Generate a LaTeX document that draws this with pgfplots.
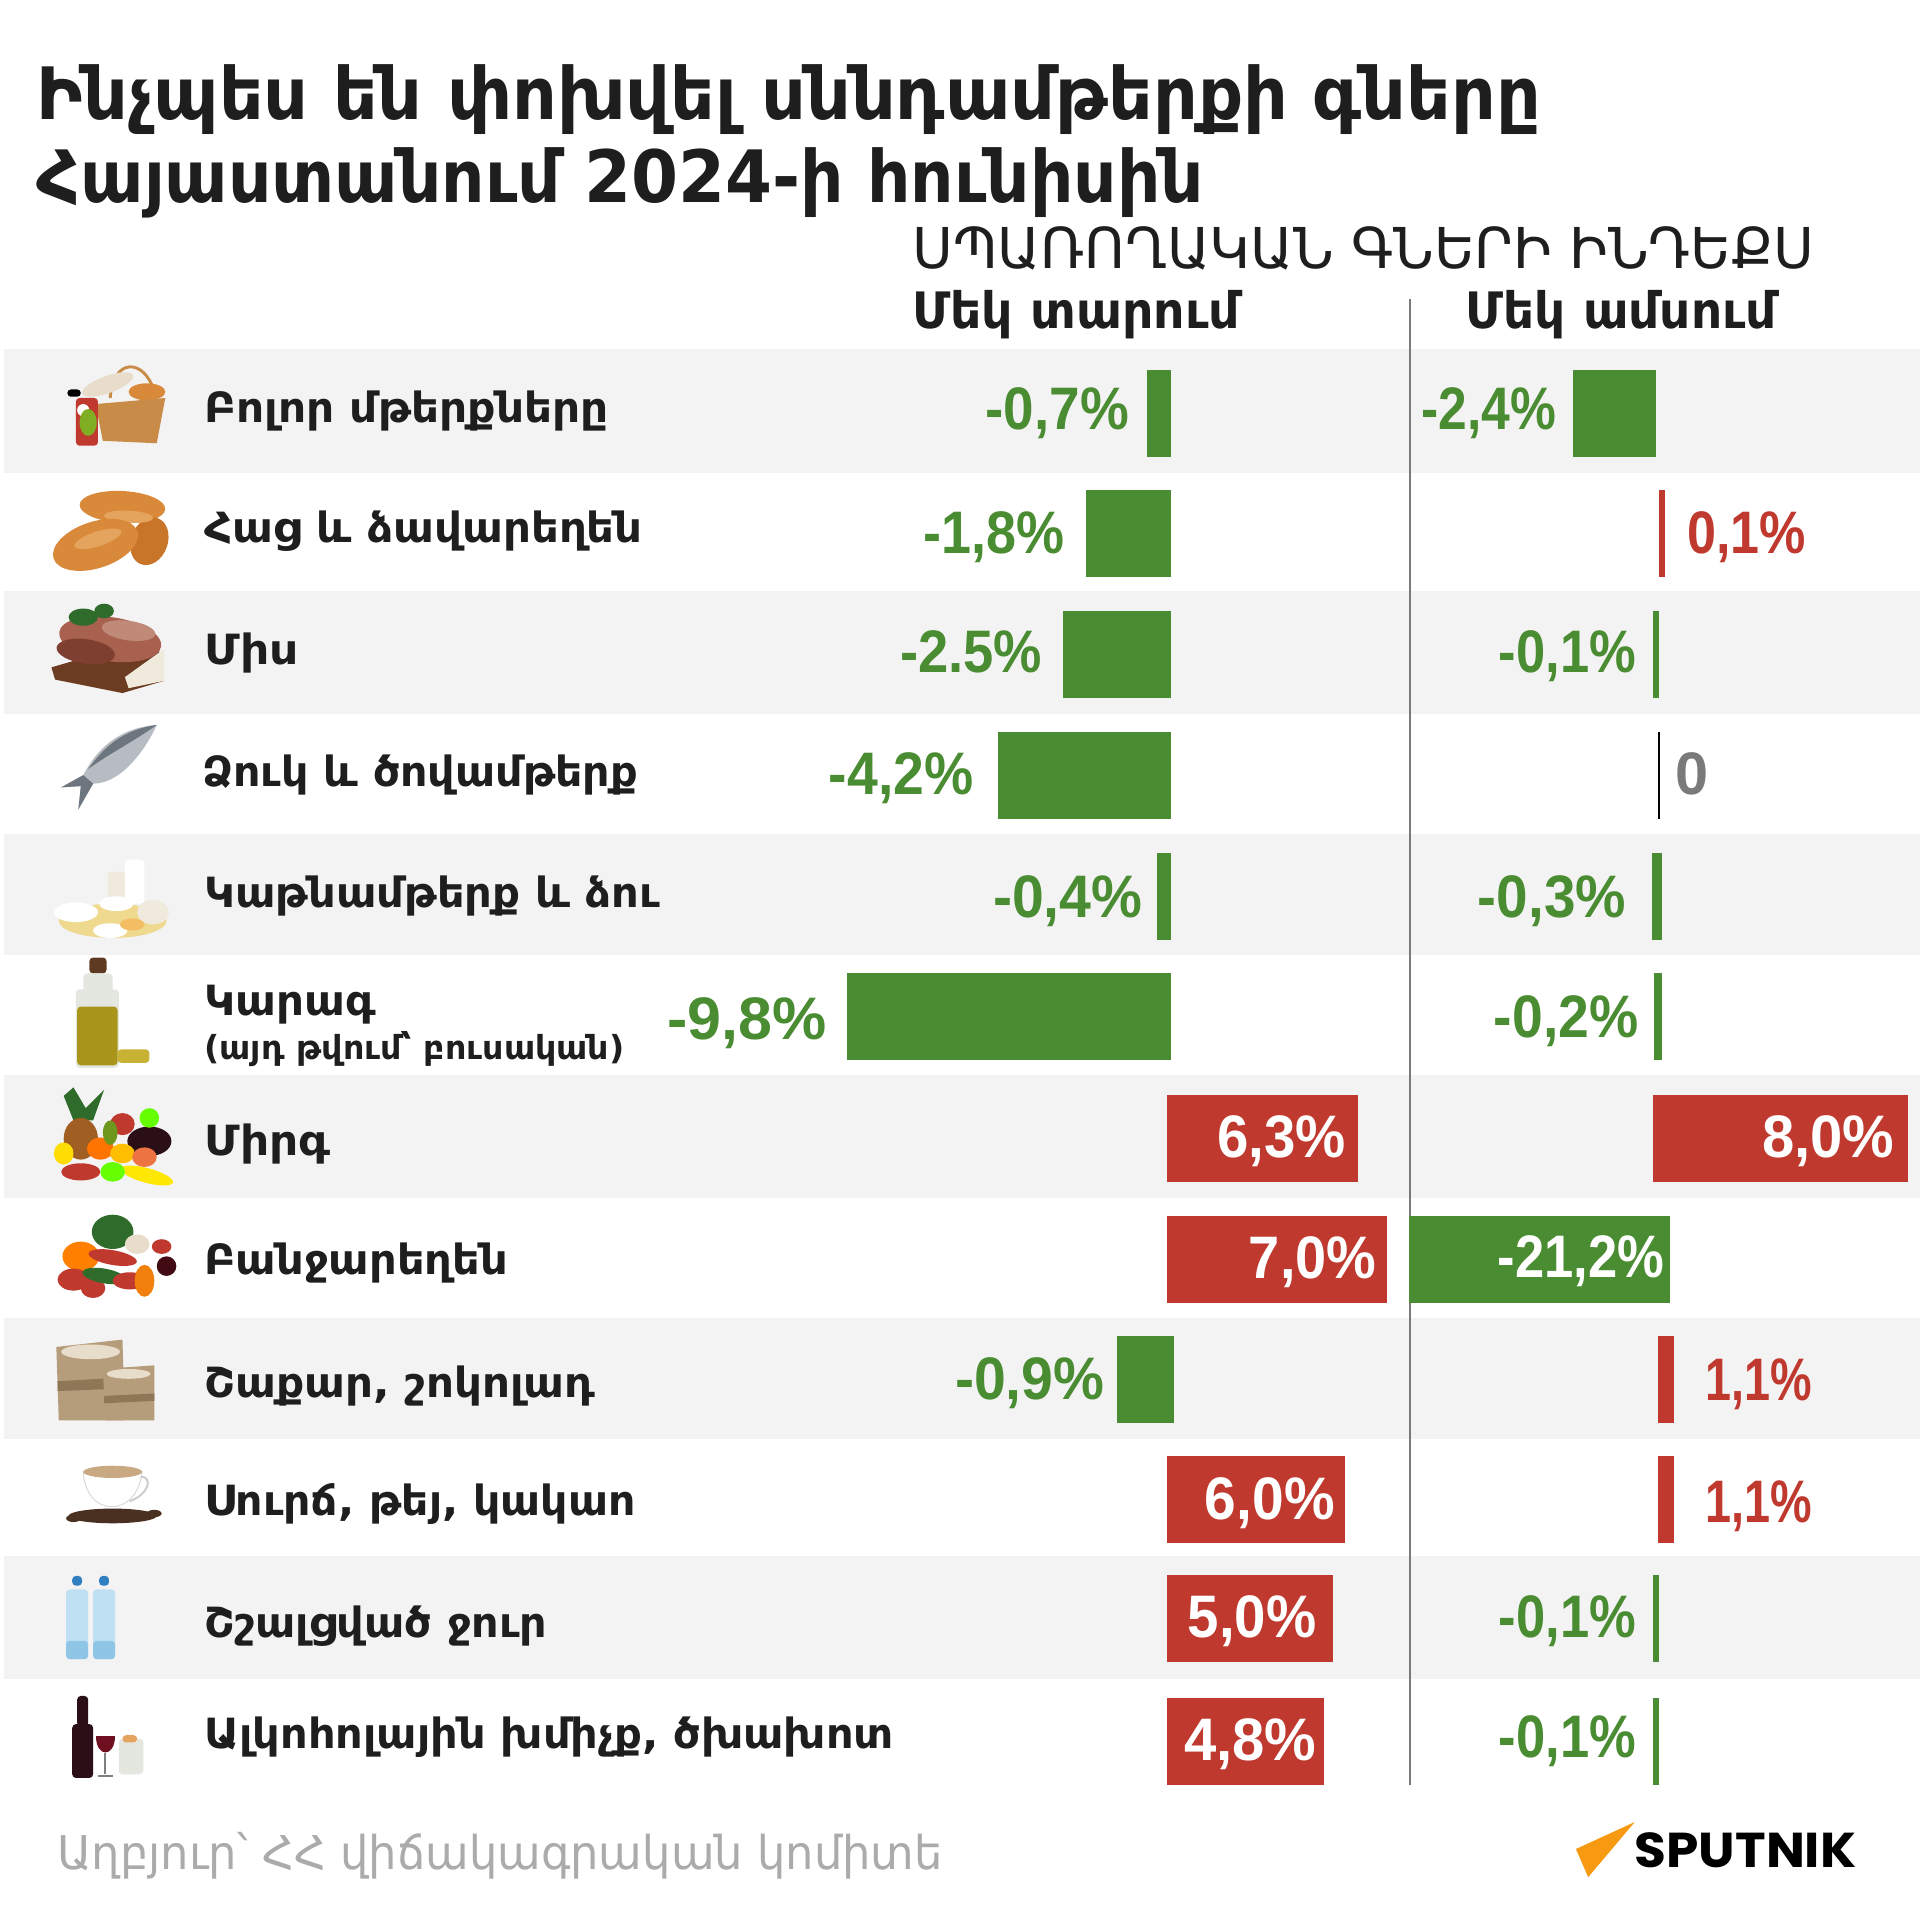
\documentclass[border=0pt]{standalone}
\usepackage{fontspec}
\usepackage{graphicx}
\usepackage{pgfplots}
\pgfplotsset{compat=1.18}
\setmainfont{DejaVu Sans}
\newfontfamily\hy{DejaVu Sans}
\newfontfamily\num{Liberation Sans}
\newfontfamily\logo{Poppins}
\definecolor{grn}{HTML}{4A8C32}
\definecolor{rd}{HTML}{C0392F}
\definecolor{band}{HTML}{F3F3F3}
\definecolor{ink}{HTML}{1E1E1E}
\definecolor{srcg}{HTML}{ABABAB}
\definecolor{lin}{HTML}{7A7A7A}
\definecolor{bread1}{HTML}{D9893A}
\definecolor{bread2}{HTML}{C8752A}
\definecolor{bread3}{HTML}{E5A45E}
\definecolor{meat1}{HTML}{A8604F}
\definecolor{meat2}{HTML}{C08A78}
\definecolor{meat3}{HTML}{7E3F30}
\definecolor{board}{HTML}{6B3B22}
\definecolor{leaf}{HTML}{2F6B2A}
\definecolor{fish1}{HTML}{B7BCC2}
\definecolor{fish2}{HTML}{6D767E}
\definecolor{milk}{HTML}{EFEADB}
\definecolor{cheese}{HTML}{EFD98F}
\definecolor{oilc}{HTML}{A8951A}
\definecolor{oild}{HTML}{C7B233}
\definecolor{cork}{HTML}{5E3A22}
\definecolor{glass}{HTML}{E4E6E0}
\definecolor{sack}{HTML}{B59C7A}
\definecolor{sackd}{HTML}{8F7656}
\definecolor{rice}{HTML}{E8DDCB}
\definecolor{bean}{HTML}{4A3020}
\definecolor{crema}{HTML}{C9A982}
\definecolor{waterc}{HTML}{BFE0F2}
\definecolor{waterd}{HTML}{8FC6E6}
\definecolor{capblue}{HTML}{2F7FC1}
\definecolor{winec}{HTML}{2A0F16}
\definecolor{wined}{HTML}{6E1020}
\definecolor{logoO}{HTML}{F79A12}
\definecolor{wicker}{HTML}{C98B48}
% bar: x0 x1 y0 y1 colour
\newcommand\bx[5]{\addplot[fill=#5,draw=none,forget plot] coordinates {(#1,#3)(#2,#3)(#2,#4)(#1,#4)} --cycle;}
% text fitted to a width: x0 x1 baseline size font+text
\newcommand\lab[6][ink]{\node[anchor=base west,inner sep=0pt,outer sep=0pt,text=#1] at (#2,#4) {\resizebox{\dimexpr(#3pt-#2pt)/2\relax}{\height}{\fontsize{#5}{#5}\selectfont #6}};}
% percentage label
\newcommand\pc[5]{\lab[#5]{#1}{#2}{#3}{24.5}{\num\bfseries #4}}
\newcommand\E[6]{\fill[#1] (#2,#3) ellipse [x radius=#4,y radius=#5,rotate=#6];}
\newcommand\R[5]{\fill[#1,rounded corners=1.5pt] (#2,#3) rectangle (#4,#5);}
\begin{document}
\begin{tikzpicture}
\begin{axis}[scale only axis,width=784pt,height=784pt,xmin=0,xmax=1568,ymin=0,ymax=1568,y dir=reverse,hide axis,clip=false,no markers]
% page
\bx{0}{1568}{0}{1568}{white}
% bands
\bx{3}{1568}{285}{386}{band}
\bx{3}{1568}{483}{583}{band}
\bx{3}{1568}{681}{780}{band}
\bx{3}{1568}{878}{978}{band}
\bx{3}{1568}{1076}{1175}{band}
\bx{3}{1568}{1271}{1371}{band}
% divider
\addplot[lin,line width=1pt,forget plot] coordinates {(1151.5,244)(1151.5,1458)};
% one-year bars
\bx{937}{956}{302}{373}{grn}
\bx{887}{956}{400}{471}{grn}
\bx{868}{956}{499}{570}{grn}
\bx{815}{956}{598}{669}{grn}
\bx{945}{956}{697}{768}{grn}
\bx{692}{956}{795}{866}{grn}
\bx{953}{1109}{894}{965}{rd}
\bx{953}{1133}{993}{1064}{rd}
\bx{912}{959}{1091}{1162}{grn}
\bx{953}{1098}{1189}{1260}{rd}
\bx{953}{1089}{1286}{1357}{rd}
\bx{953}{1081}{1387}{1458}{rd}
% one-month bars
\bx{1285}{1352}{302}{373}{grn}
\bx{1355}{1360}{400}{471}{rd}
\bx{1350}{1355}{499}{570}{grn}
\bx{1354}{1356}{598}{669}{black}
\bx{1349}{1357}{697}{768}{grn}
\bx{1351}{1357}{795}{866}{grn}
\bx{1350}{1558}{894}{965}{rd}
\bx{1151}{1364}{993}{1064}{grn}
\bx{1354}{1367}{1091}{1162}{rd}
\bx{1354}{1367}{1189}{1260}{rd}
\bx{1350}{1355}{1286}{1357}{grn}
\bx{1350}{1355}{1387}{1458}{grn}
% title and headers
\lab{30}{1258}{98}{29.5}{\hy\bfseries Ինչպես են փոխվել սննդամթերքի գները}
\lab{30}{983}{165}{29.5}{\hy\bfseries Հայաստանում 2024-ի հունիսին}
\lab{745}{1482}{219}{23}{\hy ՍՊԱՌՈՂԱԿԱՆ ԳՆԵՐԻ ԻՆԴԵՔՍ}
\lab{745}{1013}{268}{20.5}{\hy\bfseries Մեկ տարում}
\lab{1197}{1451}{268}{20.5}{\hy\bfseries Մեկ ամսում}
% row names
\lab{167}{497}{345}{17}{\hy\bfseries Բոլոր մթերքները}
\lab{167}{525}{443}{17}{\hy\bfseries Հաց և ձավարեղեն}
\lab{167}{244}{543}{17}{\hy\bfseries Միս}
\lab{165}{521}{642}{17}{\hy\bfseries Ձուկ և ծովամթերք}
\lab{167}{539}{741}{17}{\hy\bfseries Կաթնամթերք և ձու}
\lab{167}{307}{829}{17}{\hy\bfseries Կարագ}
\lab{167}{510}{865}{13.5}{\hy\bfseries (այդ թվում՝ բուսական)}
\lab{167}{270}{944}{17}{\hy\bfseries Միրգ}
\lab{167}{415}{1041}{17}{\hy\bfseries Բանջարեղեն}
\lab{167}{486}{1141}{17}{\hy\bfseries Շաքար, շոկոլադ}
\lab{167}{519}{1238}{17}{\hy\bfseries Սուրճ, թեյ, կակաո}
\lab{167}{447}{1337}{17}{\hy\bfseries Շշալցված ջուր}
\lab{167}{730}{1428}{17}{\hy\bfseries Ալկոհոլային խմիչք, ծխախոտ}
% value labels, one year
\pc{805}{922}{351}{-0,7\%}{grn}
\pc{754}{869}{452}{-1,8\%}{grn}
\pc{735}{851}{549}{-2.5\%}{grn}
\pc{677}{795}{649}{-4,2\%}{grn}
\pc{811}{933}{749}{-0,4\%}{grn}
\pc{545}{675}{849}{-9,8\%}{grn}
\pc{994}{1099}{945}{6,3\%}{white}
\pc{1020}{1124}{1044}{7,0\%}{white}
\pc{780}{902}{1143}{-0,9\%}{grn}
\pc{984}{1090}{1241}{6,0\%}{white}
\pc{970}{1075}{1337}{5,0\%}{white}
\pc{967}{1075}{1438}{4,8\%}{white}
% value labels, one month
\pc{1161}{1271}{351}{-2,4\%}{grn}
\pc{1378}{1475}{452}{0,1\%}{rd}
\pc{1224}{1336}{549}{-0,1\%}{grn}
\pc{1368}{1395}{649}{0}{lin}
\pc{1207}{1328}{749}{-0,3\%}{grn}
\pc{1220}{1338}{847}{-0,2\%}{grn}
\pc{1439}{1547}{945}{8,0\%}{white}
\pc{1223}{1359}{1043}{-21,2\%}{white}
\pc{1393}{1480}{1144}{1,1\%}{rd}
\pc{1393}{1480}{1243}{1,1\%}{rd}
\pc{1224}{1336}{1337}{-0,1\%}{grn}
\pc{1224}{1336}{1435}{-0,1\%}{grn}
% footer
\lab[srcg]{47}{770}{1527}{19}{\hy Աղբյուր՝ ՀՀ վիճակագրական կոմիտե}
\fill[logoO] (1335,1488) -- (1287,1510) -- (1297,1533) -- cycle;
\lab[black]{1335}{1516}{1525}{20}{\logo\bfseries SPUTNIK}
% --- simplified pictograms ---
% basket
\draw[wicker,line width=1.2pt] (90,325) .. controls (92,292) and (118,292) .. (126,320);
\E{rice}{88}{314}{22}{7}{20}
\E{bread1}{120}{320}{15}{7}{0}
\fill[wicker] (78,330) -- (135,325) -- (128,362) -- (84,360) -- cycle;
\R{rd}{62}{325}{80}{364}
\E{white}{68}{335}{5}{5}{0}
\E{grn!70!yellow}{72}{345}{7}{11}{0}
\R{black}{55}{318}{66}{324}
% bread
\E{bread1}{100}{414}{35}{13}{-3}
\E{bread2}{122}{442}{15}{20}{-20}
\E{bread3}{105}{422}{20}{5}{-3}
\E{bread1}{78}{445}{36}{19}{18}
\E{bread3}{80}{440}{20}{6}{18}
% meat
\fill[board] (42,545) -- (128,520) -- (134,556) -- (100,566) -- (45,555) -- cycle;
\fill[milk] (102,553) -- (134,530) -- (134,556) -- (105,562) -- cycle;
\E{meat1}{90}{522}{42}{18}{-8}
\E{meat3}{70}{532}{24}{10}{-8}
\E{meat2}{105}{515}{22}{8}{-8}
\E{leaf}{68}{504}{12}{7}{0}
\E{leaf}{85}{499}{8}{6}{0}
% fish
\fill[fish1] (128,592) .. controls (90,595) and (75,620) .. (68,633) -- (50,643) -- (66,642) -- (64,661) -- (76,640) .. controls (100,640) and (120,610) .. (128,592) -- cycle;
\fill[fish2] (128,592) .. controls (100,596) and (85,610) .. (72,628) .. controls (90,615) and (110,605) .. (128,592) -- cycle;
\fill[fish2] (68,633) -- (50,643) -- (66,642) -- (64,661) -- (76,640) -- cycle;
% dairy
\R{milk}{88}{712}{103}{738}
\R{white}{102}{702}{118}{738}
\E{cheese}{92}{752}{44}{14}{0}
\E{white}{62}{745}{18}{8}{0}
\E{white}{95}{738}{14}{6}{0}
\E{white}{90}{760}{14}{6}{0}
\E{milk}{125}{745}{13}{10}{0}
\E{cheese!70!orange}{108}{755}{10}{5}{0}
% oil
\R{cork}{73}{782}{87}{795}
\R{glass}{68}{795}{92}{815}
\R{glass}{62}{808}{97}{872}
\R{oilc}{63}{822}{96}{870}
\R{oild}{96}{857}{122}{868}
% fruit
\fill[leaf] (60,888) -- (70,905) -- (85,890) -- (76,915) -- (60,915) -- (52,895) -- cycle;
\E{bread2!80!black}{66}{930}{14}{17}{0}
\E{winec}{122}{932}{18}{12}{0}
\E{rd}{100}{918}{10}{9}{0}
\E{green!60!yellow}{122}{913}{8}{8}{0}
\E{orange!90!red}{82}{938}{11}{9}{0}
\E{leaf!70!yellow}{90}{925}{6}{10}{0}
\E{yellow!90!orange}{120}{960}{22}{6}{-15}
\E{yellow!80!orange}{52}{942}{8}{9}{0}
\E{rd}{66}{957}{16}{7}{0}
\E{green!60!yellow}{92}{957}{10}{8}{0}
\E{orange!50!yellow}{100}{942}{10}{8}{0}
\E{bread3!70!red}{118}{945}{10}{8}{0}
% vegetables
\E{leaf}{92}{1006}{17}{14}{0}
\E{orange}{66}{1026}{15}{12}{0}
\E{rd}{60}{1045}{13}{9}{0}
\E{rd}{76}{1052}{10}{8}{0}
\E{rd}{92}{1027}{20}{6}{-10}
\E{leaf}{85}{1042}{18}{6}{-10}
\E{rd}{106}{1046}{14}{7}{0}
\E{orange!80!brown}{118}{1046}{8}{13}{0}
\E{wined!60!black}{136}{1034}{8}{8}{0}
\E{rice}{112}{1016}{10}{8}{0}
\E{rd}{132}{1018}{8}{6}{0}
% sacks
\fill[sack] (46,1100) -- (100,1094) -- (102,1160) -- (48,1160) -- cycle;
\fill[sackd] (47,1128) -- (100,1125) -- (100,1134) -- (47,1136) -- cycle;
\fill[sack] (84,1118) -- (126,1115) -- (126,1160) -- (86,1160) -- cycle;
\fill[sackd] (85,1140) -- (126,1138) -- (126,1144) -- (85,1146) -- cycle;
\E{rice}{74}{1104}{24}{6}{0}
\E{rice}{105}{1122}{18}{4}{0}
% coffee
\E{bean}{92}{1238}{36}{6}{0}
\E{bean}{60}{1240}{6}{3}{0}
\E{bean}{126}{1236}{6}{3}{0}
\fill[white,draw=gray!30] (68,1202) .. controls (70,1240) and (112,1240) .. (116,1202) -- cycle;
\draw[gray!40,line width=.8pt] (115,1206) .. controls (125,1206) and (122,1220) .. (106,1226);
\E{crema}{92}{1202}{24}{5}{0}
% water
\R{waterc}{54}{1298}{72}{1355}
\R{waterc}{76}{1298}{94}{1355}
\R{waterd}{54}{1340}{72}{1355}
\R{waterd}{76}{1340}{94}{1355}
\R{capblue}{59}{1287}{67}{1295}
\R{capblue}{81}{1287}{89}{1295}
% alcohol
\R{winec}{59}{1408}{76}{1452}
\R{winec}{63}{1385}{72}{1410}
\fill[wined] (78,1418) .. controls (78,1436) and (94,1436) .. (94,1418) -- cycle;
\draw[gray,line width=.8pt] (86,1432) -- (86,1449) (80,1450) -- (92,1450);
\R{glass}{97}{1420}{117}{1449}
\R{bread3}{100}{1417}{112}{1423}
\end{axis}
\end{tikzpicture}
\end{document}
